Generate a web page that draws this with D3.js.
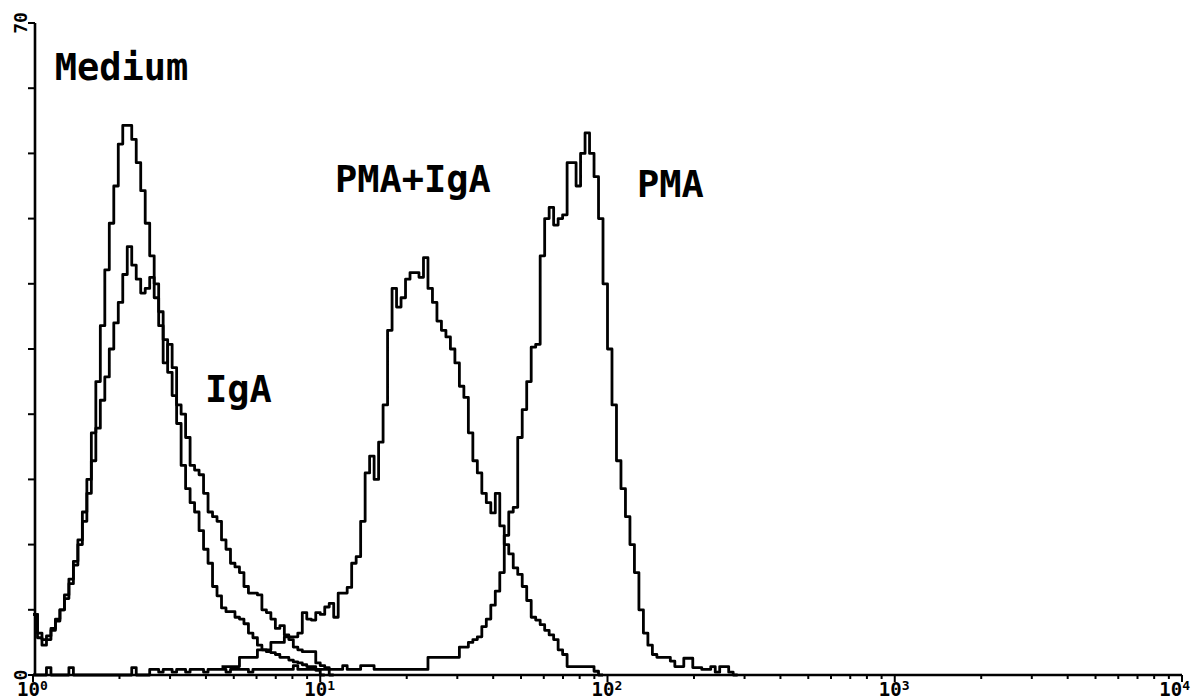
<!DOCTYPE html>
<html>
<head>
<meta charset="utf-8">
<script src="https://cdn.jsdelivr.net/npm/d3@7"></script>
<style>
  body { margin: 0; background: #fff; }
  svg { display: block; }
  text { font-family: "DejaVu Sans Mono", monospace; font-weight: bold; fill: #000; }
</style>
</head>
<body>
<script>
// histogrammes FACS, 64 canaux par decade (256 canaux sur 4 decades)
var chPerDecade = 64;

// comptes par canal
var mediumStart = 0;
var medium = [6.5, 4.0, 3.2, 3.8, 4.8, 5.8, 7.0, 8.6, 10.3, 12.2,
  14.5, 17.5, 21, 26, 31.5, 37.5, 43.5, 48.5, 52.5, 57,
  59, 59, 57.5, 55, 52, 48.5, 45, 42, 39, 36,
  32.5, 30, 27, 22.5, 20, 18.5, 17.5, 15.5, 13.5, 12,
  9.5, 8.5, 7.2, 6.8, 6.8, 6.2, 6, 5.5, 4.5, 4,
  3.2, 2.7, 2.5, 2.4, 2.2, 1.9, 1.9, 1.6, 1.4, 1.3,
  1.1, 0.9, 0.9, 0.5, 0];

var igaStart = 0;
var iga = [6.5, 4.5, 3.8, 4.2, 5, 6, 7, 8.2, 9.8, 11.8,
  14, 16.5, 19.5, 23, 26.5, 29.5, 32, 35, 37.8, 40,
  43, 46, 44, 42.5, 41, 41.5, 42.7, 40.5, 37.5, 33.5,
  35.5, 33, 29, 28, 25.5, 22.5, 22, 21.5, 19.5, 17.5,
  17, 16.5, 14.5, 13.5, 12, 11.6, 11, 9.5, 8.8, 8.8,
  8.6, 7, 6.7, 6, 5, 5.3, 4.3, 3.8, 3, 2.7,
  2.5, 2.5, 2.5, 1.3, 1, 0.8, 0];

var pmaIgaStart = 42;
var pmaIga = [0.9, 0.9, 0.9, 0.9, 1.9, 1.9, 1.9, 1.9,
  2.7, 2.7, 2.7, 3.5, 3.5, 3.5, 4.1, 4.1, 4.1, 4.5,
  6.7, 6, 5.9, 6.7, 6.5, 7.3, 7.7, 6.2, 8.8, 8.8,
  9.4, 12, 12.7, 16.5, 21.7, 23.5, 21, 25, 29, 37,
  41.5, 39.5, 40.5, 42.5, 43.2, 43.2, 42.7, 44.8, 41.5, 40,
  38, 37, 36.3, 35, 33.5, 31, 29.8, 26, 23, 21.7,
  19.5, 18.5, 17.4, 19.5, 16, 14, 13, 11.5, 10.8, 9.5,
  8, 6.2, 5.9, 5.4, 4.8, 4.3, 3.8, 2.7, 2.2, 0.9,
  0.9, 0.9, 0.9, 0.9, 0.9, 0.4, 0];

var pmaStart = 0;
var pma = [0, 0, 0, 0.8, 0, 0, 0, 0, 0.8, 0,
  0, 0, 0, 0, 0, 0, 0, 0, 0, 0,
  0, 0, 0.8, 0, 0, 0, 0.6, 0.6, 0.3, 0.6,
  0.6, 0.3, 0.6, 0.6, 0.3, 0.6, 0.6, 0.6, 0.3, 0.6,
  0.6, 0.6, 0.6, 0.3, 0.6, 0.6, 0.6, 0.6, 0.3, 0.6,
  0.6, 0.6, 0.6, 0.6, 0.6, 0.6, 0.6, 0.6, 1.0, 0.6,
  0.6, 0.6, 0.6, 0.6, 0.6, 0.6, 0.6, 0.6, 0.6, 1.0,
  0.6, 0.6, 0.6, 1.0, 1.0, 1.0, 0.6, 0.6, 0.6, 0.6,
  0.6, 0.6, 0.6, 0.6, 0.6, 0.6, 0.6, 0.6, 1.9, 1.9,
  1.9, 1.9, 1.9, 1.9, 1.9, 3, 3, 3.5, 3.8, 4.1,
  5.2, 6, 7.5, 9, 11, 15, 17.5, 18, 25.5, 28.5,
  31.5, 35.2, 35.5, 45, 49, 50.2, 48.3, 49, 49.4, 55,
  55, 52.5, 56, 58.2, 56, 53.5, 49, 42, 35, 29,
  23, 20, 17, 14, 11, 7, 4.5, 3.2, 2.2, 1.9,
  1.9, 1.9, 1.5, 0.9, 0.9, 1.8, 1.8, 0.8, 0.8, 0.6,
  0.6, 0.9, 0.3, 0.9, 0.9, 0.3, 0];

// etiquettes
var curveLabels = ["Medium", "IgA", "PMA+IgA", "PMA"];
var labelPos = [[1.19, 63.9], [3.97, 29.3], [11.25, 51.9], [126.7, 51.3]]; // [fluorescence, compte]
var yTickLabels = ["0", "70"];
var decades = [1, 10, 100, 1000, 10000];

var width = 1191,
    height = 699;

var svg = d3.select("body")
  .append("svg")
  .attr("width", width)
  .attr("height", height);

var x = d3.scaleLog()
  .domain([1, 10000])
  .range([33, 1182]);

var y = d3.scaleLinear()
  .domain([0, 70])
  .range([675, 23]);

// canal -> fluorescence
function chToVal(ch) {
  return Math.pow(10, ch / chPerDecade);
}

function toPoints(start, counts) {
  var pts = counts.map(function(c, i) { return [start + i, c]; });
  pts.push([start + counts.length, counts[counts.length - 1]]);
  return pts;
}

var line = d3.line()
  .x(function(d) { return x(chToVal(d[0])); })
  .y(function(d) { return y(d[1]); })
  .curve(d3.curveStepAfter);

var series = [
  toPoints(pmaStart, pma),
  toPoints(pmaIgaStart, pmaIga),
  toPoints(igaStart, iga),
  toPoints(mediumStart, medium)
];

svg.selectAll("path.hist")
  .data(series)
  .enter()
  .append("path")
  .attr("class", "hist")
  .attr("d", line)
  .attr("fill", "none")
  .attr("stroke", "#000")
  .attr("stroke-width", 2.8)
  .attr("stroke-linejoin", "round");

// axe x : ticks log, vers le bas
var xTicks = x.ticks();
svg.append("g")
  .selectAll("line")
  .data(xTicks)
  .enter()
  .append("line")
  .attr("x1", function(d) { return x(d); })
  .attr("x2", function(d) { return x(d); })
  .attr("y1", y(0))
  .attr("y2", function(d) { return decades.indexOf(d) >= 0 ? y(0) + 7 : y(0) + 4; })
  .attr("stroke", "#000")
  .attr("stroke-width", 2);

svg.append("line")
  .attr("x1", x(1)).attr("x2", x(10000))
  .attr("y1", y(0)).attr("y2", y(0))
  .attr("stroke", "#000").attr("stroke-width", 2.6);

// axe y
var yAxisX = 35;
svg.append("line")
  .attr("x1", yAxisX).attr("x2", yAxisX)
  .attr("y1", y(0)).attr("y2", y(70))
  .attr("stroke", "#000").attr("stroke-width", 2.6);

svg.append("g")
  .selectAll("line")
  .data(d3.range(0, 71, 7))
  .enter()
  .append("line")
  .attr("x1", yAxisX - 7).attr("x2", yAxisX)
  .attr("y1", function(d) { return y(d); })
  .attr("y2", function(d) { return y(d); })
  .attr("stroke", "#000").attr("stroke-width", 2);

// labels des decades (le dernier colle au bord droit)
var xl = svg.append("g")
  .selectAll("text")
  .data(decades)
  .enter()
  .append("text")
  .attr("x", function(d, i) { return i === decades.length - 1 ? width - 1 : x(d) - 16; })
  .attr("text-anchor", function(d, i) { return i === decades.length - 1 ? "end" : "start"; })
  .attr("y", 696)
  .attr("font-size", 19);
xl.append("tspan").text("10");
xl.append("tspan")
  .attr("dy", -6)
  .attr("font-size", 13)
  .text(function(d) { return Math.round(Math.log10(d)); });

// labels y tournes
svg.selectAll("text.ylab")
  .data(yTickLabels)
  .enter()
  .append("text")
  .attr("class", "ylab")
  .attr("font-size", 18)
  .attr("text-anchor", "middle")
  .attr("transform", function(d) {
    return "translate(" + (yAxisX - 8) + "," + y(+d) + ") rotate(-90)";
  })
  .text(function(d) { return d; });

// noms des courbes
svg.selectAll("text.clab")
  .data(curveLabels)
  .enter()
  .append("text")
  .attr("class", "clab")
  .attr("font-size", 37)
  .attr("x", function(d, i) { return x(labelPos[i][0]); })
  .attr("y", function(d, i) { return y(labelPos[i][1]); })
  .text(function(d) { return d; });
</script>
</body>
</html>
